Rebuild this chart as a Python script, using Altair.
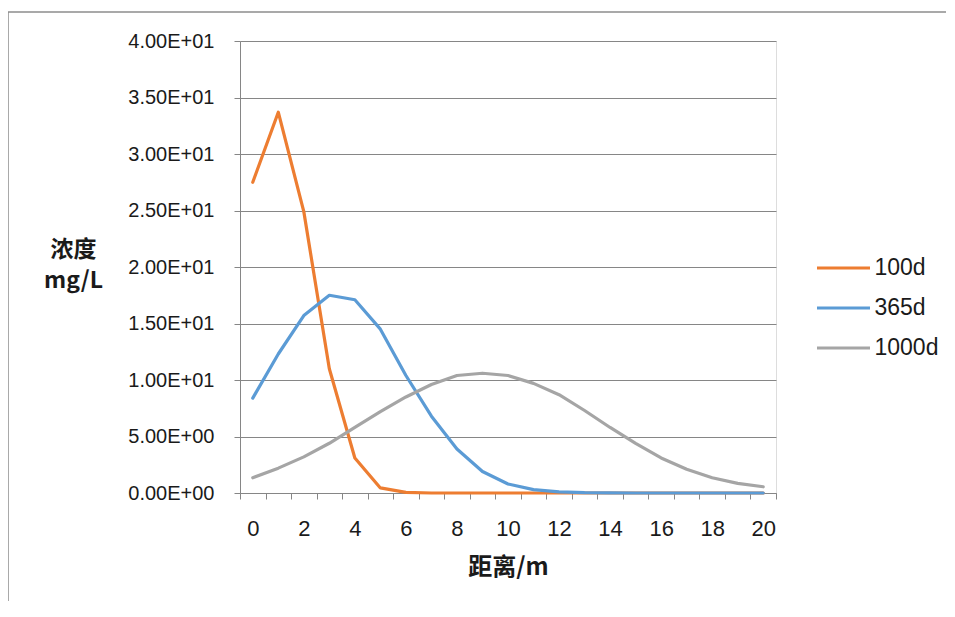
import altair as alt
import pandas as pd

# ---- data ----
distance = list(range(21))
series_names = ["100d", "365d", "1000d"]
c_100d = [27.5, 33.7, 24.9, 11.0, 3.1, 0.45, 0.05, 0, 0, 0, 0, 0, 0, 0, 0, 0, 0, 0, 0, 0, 0]
c_365d = [8.4, 12.3, 15.7, 17.5, 17.1, 14.5, 10.4, 6.8, 3.9, 1.9, 0.8, 0.3, 0.1, 0.03, 0.01, 0, 0, 0, 0, 0, 0]
c_1000d = [1.35, 2.2, 3.2, 4.4, 5.8, 7.2, 8.5, 9.6, 10.4, 10.6, 10.4, 9.7, 8.7, 7.3, 5.8, 4.4, 3.1, 2.1, 1.35, 0.85, 0.55]
series_colors = ["#ED7D31", "#5B9BD5", "#A5A5A5"]

y_tick_values = [0, 5, 10, 15, 20, 25, 30, 35, 40]
y_tick_labels = ["0.00E+00", "5.00E+00", "1.00E+01", "1.50E+01", "2.00E+01",
                 "2.50E+01", "3.00E+01", "3.50E+01", "4.00E+01"]
x_label_values = [0, 2, 4, 6, 8, 10, 12, 14, 16, 18, 20]
x_tick_marks = [k - 0.5 for k in range(22)]

rows = []
for name, vals in zip(series_names, [c_100d, c_365d, c_1000d]):
    for d, v in zip(distance, vals):
        rows.append({"distance": d, "conc": v, "series": name})
df = pd.DataFrame(rows)

# label expression built from the tick label list
y_expr = "''"
for v, lab in zip(y_tick_values, y_tick_labels):
    y_expr = f"datum.value === {v} ? '{lab}' : ({y_expr})"

W, H = 536, 452
PAD = {"left": 232, "top": 33, "right": 170, "bottom": 108}
GRID = "#868686"
LABEL_FONT = "Liberation Sans"
CJK_FONT = "Noto Sans CJK SC"

x_axis = alt.Axis(
    values=x_tick_marks + x_label_values,
    labelExpr="datum.value % 2 === 0 ? format(datum.value, 'd') : ''",
    tickOpacity={"condition": {"test": "datum.value % 1 !== 0", "value": 1}, "value": 0},
    tickSize=6,
    tickColor=GRID,
    domainColor=GRID,
    grid=False,
    labelFont=LABEL_FONT,
    labelFontSize=22,
    labelColor="#1a1a1a",
    labelPadding=19,
    labelFlush=False,
    labelOverlap=False,
    title="距离/m",
    titleFont=CJK_FONT,
    titleFontSize=24,
    titleFontWeight="bold",
    titleColor="#1a1a1a",
    titleX=W / 2,
    titleY=74,
    titleAlign="center",
    titleBaseline="middle",
)

y_axis = alt.Axis(
    values=y_tick_values,
    labelExpr=y_expr,
    tickSize=6,
    tickColor=GRID,
    domainColor=GRID,
    grid=True,
    gridColor=GRID,
    gridWidth=1,
    labelFont=LABEL_FONT,
    labelFontSize=20,
    labelColor="#1a1a1a",
    labelPadding=20,
    title=["浓度", "mg/L"],
    titleFont=CJK_FONT,
    titleFontSize=23,
    titleFontWeight="bold",
    titleColor="#1a1a1a",
    titleAngle=0,
    titleAlign="center",
    titleBaseline="middle",
    titleLineHeight=31,
    titleX=-167,
    titleY=208,
)

lines = alt.Chart(df).mark_line(strokeWidth=3.2, strokeJoin="round", strokeCap="round").encode(
    x=alt.X("distance:Q", scale=alt.Scale(domain=[-0.5, 20.5], nice=False, zero=False), axis=x_axis),
    y=alt.Y("conc:Q", scale=alt.Scale(domain=[0, 40], nice=False), axis=y_axis),
    color=alt.Color(
        "series:N",
        sort=series_names,
        scale=alt.Scale(domain=series_names, range=series_colors),
        legend=alt.Legend(
            title=None,
            orient="none",
            legendX=575.5,
            legendY=199,
            symbolType="stroke",
            symbolSize=2809,
            symbolStrokeWidth=3,
            labelFont=LABEL_FONT,
            labelFontSize=23,
            labelColor="#1a1a1a",
            labelOffset=3,
            rowPadding=-7.5,
            padding=0,
        ),
    ),
    order=alt.Order("distance:Q"),
)

frame_df = pd.DataFrame({"k": [0]})
frame_top = alt.Chart(frame_df).mark_rule(color="#8c8c8c", strokeWidth=1.5).encode(
    x=alt.value(-232), x2=alt.value(W + PAD["right"]), y=alt.value(-29)
)
frame_left = alt.Chart(frame_df).mark_rule(color="#8c8c8c", strokeWidth=1.5).encode(
    x=alt.value(-232), y=alt.value(-29), y2=alt.value(H + PAD["bottom"])
)

chart = alt.layer(frame_top, frame_left, lines).properties(
    width=W,
    height=H,
    autosize=alt.AutoSizeParams(type="none"),
    padding=PAD,
).configure_view(stroke=None).configure(background="white")

chart.save("out.html", embed_options={"renderer": "svg", "actions": False})
